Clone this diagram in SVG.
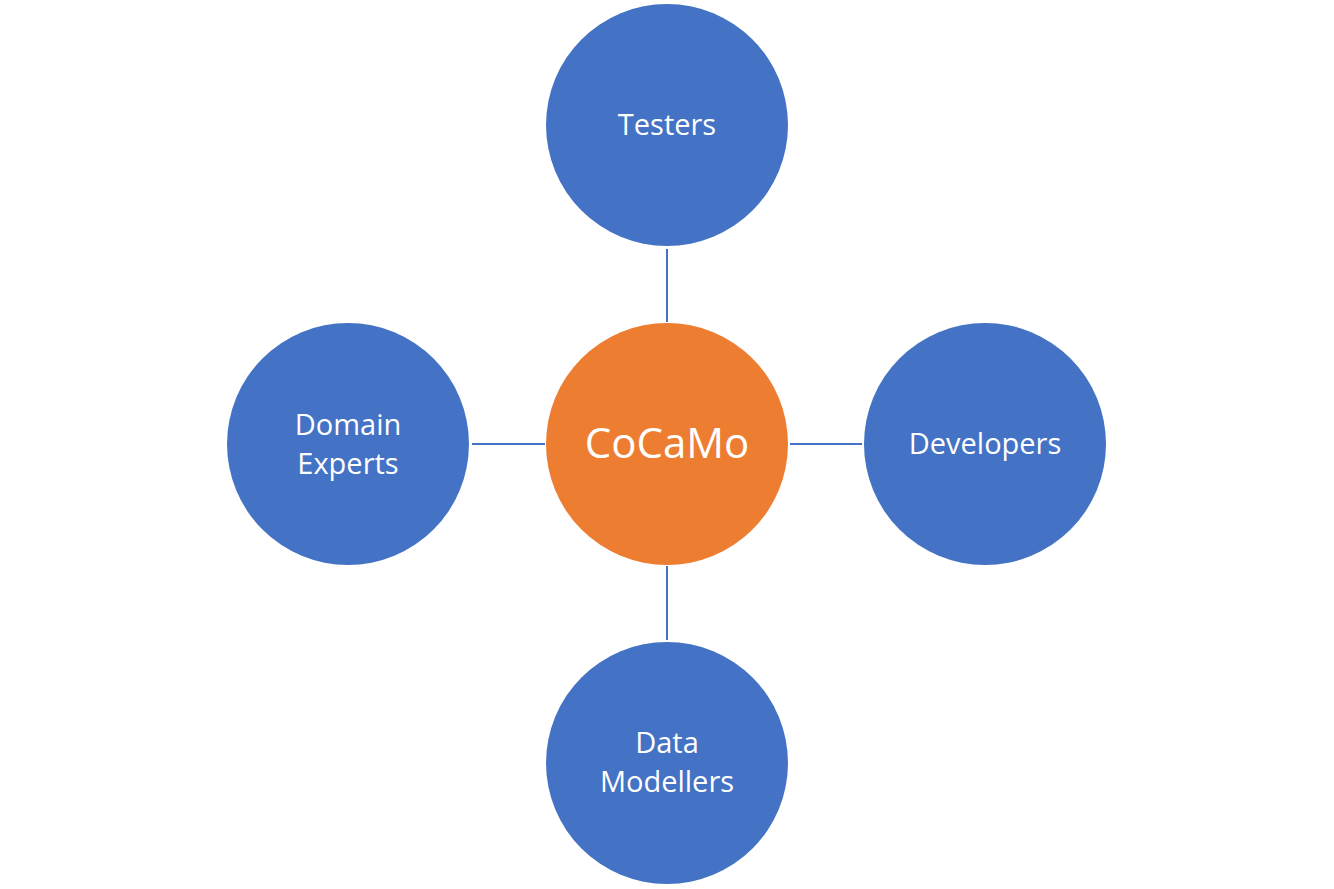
<svg xmlns="http://www.w3.org/2000/svg" width="1334" height="889" viewBox="0 0 1334 889">
<style>
.b{fill:#4472C4}
.o{fill:#ED7D31}
.t{fill:#fff;font-family:"Open Sans","Noto Sans",sans-serif;font-size:29px;text-anchor:middle}
.big{font-size:42px}
.c{stroke:#4472C4;stroke-width:2;fill:none}
</style>
<rect width="1334" height="889" fill="#fff"/>
<g id="connectors">
<line class="c" x1="667" y1="249" x2="667" y2="322"/>
<line class="c" x1="667" y1="566" x2="667" y2="640"/>
<line class="c" x1="472" y1="444" x2="545" y2="444"/>
<line class="c" x1="790" y1="444" x2="862" y2="444"/>
</g>
<g id="testers"><circle class="b" cx="667" cy="125" r="121"/><text class="t" x="667" y="135">Testers</text></g>
<g id="domain-experts"><circle class="b" cx="348" cy="444" r="121"/><text class="t" x="348" y="435">Domain</text><text class="t" x="348" y="474">Experts</text></g>
<g id="cocamo"><circle class="o" cx="667" cy="444" r="121"/><text class="t big" x="667" y="458">CoCaMo</text></g>
<g id="developers"><circle class="b" cx="985" cy="444" r="121"/><text class="t" x="985" y="454">Developers</text></g>
<g id="data-modellers"><circle class="b" cx="667" cy="763" r="121"/><text class="t" x="667" y="753">Data</text><text class="t" x="667" y="792">Modellers</text></g>
</svg>
